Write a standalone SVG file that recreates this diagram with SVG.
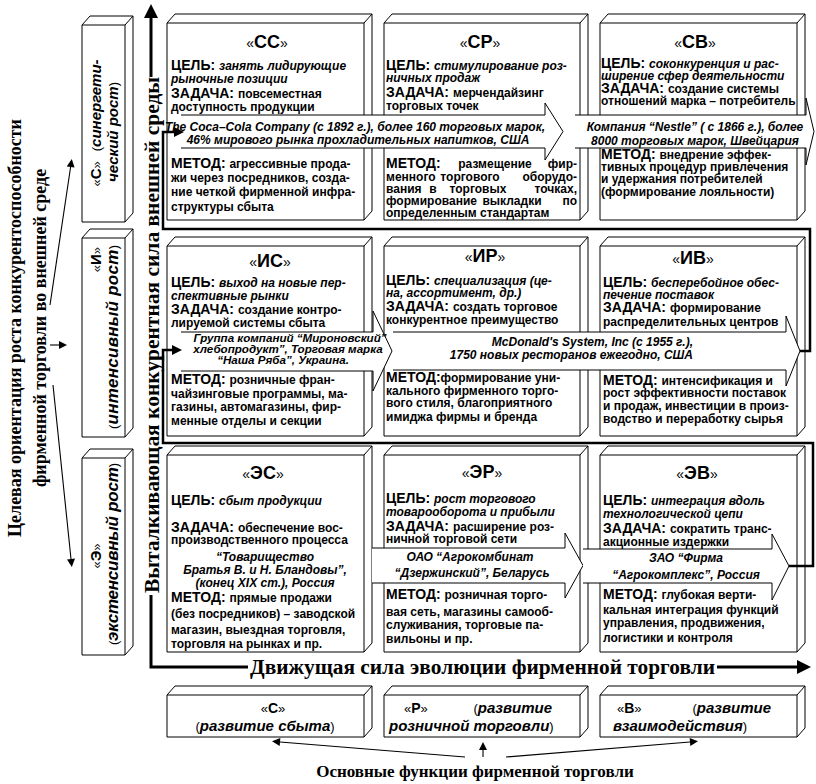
<svg xmlns="http://www.w3.org/2000/svg" width="816" height="784" viewBox="0 0 816 784">
<defs>
<style>
text{font-family:"Liberation Sans",Arial,sans-serif;font-weight:bold;font-size:12px;fill:#000}
.k{font-size:14px}
.i{font-style:italic}
.q{font-weight:normal}
.g{font-size:13px}
.h{font-size:18px}
.v{font-size:15px}
.v17{font-size:17px}
.bn{font-style:italic;font-size:12px}
.bs{font-style:italic;font-size:11.6px}
.sf{font-family:"Liberation Serif","Times New Roman",serif;font-weight:bold}
.s17{font-size:17px}
.s18{font-size:18px}
.s20{font-size:20px}
.box{fill:#fff;stroke:#000;stroke-width:1}
.ban{fill:#fff;stroke:#000;stroke-width:1}
.thick{fill:none;stroke:#000;stroke-width:3}
.loop{fill:none;stroke:#000;stroke-width:2.5}
.thin{fill:none;stroke:#000;stroke-width:1.1}
</style>
<marker id="big" viewBox="0 0 10 10" refX="0" refY="5" markerUnits="userSpaceOnUse" markerWidth="16" markerHeight="14" orient="auto"><path d="M0,0 L10,5 L0,10 z"/></marker>
<marker id="mid" viewBox="0 0 10 10" refX="0" refY="5" markerUnits="userSpaceOnUse" markerWidth="11" markerHeight="10" orient="auto"><path d="M0,0 L10,5 L0,10 z"/></marker>
<marker id="sm" viewBox="0 0 10 10" refX="0" refY="5" markerUnits="userSpaceOnUse" markerWidth="10" markerHeight="8" orient="auto"><path d="M0,0 L10,5 L0,10 z"/></marker>
</defs>
<rect width="816" height="784" fill="#fff"/>

<!-- side captions -->
<g id="axis-goal">
<text class="sf s18" transform="translate(21,328) rotate(-90)" text-anchor="middle">Целевая ориентация роста конкурентоспособности</text>
<text class="sf s18" transform="translate(46,328) rotate(-90)" text-anchor="middle">фирменной торговли во внешней среде</text>
</g>

<!-- growth type boxes -->
<g id="growth-s">
<path class="box" d="M82,25 H125 V222 H82 Z M82,25 L90,16 H133 L125,25 M133,16 V213 L125,222"/>
<text transform="translate(101,123) rotate(-90)" text-anchor="middle"><tspan class="q g">«</tspan><tspan class="v">С</tspan><tspan class="q g">»</tspan><tspan class="q g" dx="10">(</tspan><tspan class="v i">синергети-</tspan></text>
<text transform="translate(118,132) rotate(-90)" text-anchor="middle"><tspan class="v i">ческий рост</tspan><tspan class="q g">)</tspan></text>
</g>
<g id="growth-i">
<path class="box" d="M82,238 H125 V437 H82 Z M82,238 L90,229 H133 L125,238 M133,229 V428 L125,437"/>
<text transform="translate(101,247) rotate(-90)" text-anchor="end"><tspan class="q g">«</tspan><tspan class="v">И</tspan><tspan class="q g">»</tspan></text>
<text transform="translate(118,337) rotate(-90)" text-anchor="middle" textLength="184" lengthAdjust="spacing"><tspan class="q g">(</tspan><tspan class="v17 i">интенсивный рост</tspan><tspan class="q g">)</tspan></text>
</g>
<g id="growth-e">
<path class="box" d="M82,458 H125 V655 H82 Z M82,458 L90,449 H133 L125,458 M133,449 V646 L125,655"/>
<text transform="translate(101,556) rotate(-90)" text-anchor="middle"><tspan class="q g">«</tspan><tspan class="v">Э</tspan><tspan class="q g">»</tspan></text>
<text transform="translate(118,554) rotate(-90)" text-anchor="middle" textLength="182" lengthAdjust="spacing"><tspan class="q g">(</tspan><tspan class="v17 i">экстенсивный рост</tspan><tspan class="q g">)</tspan></text>
</g>

<!-- row С -->
<g id="node-ss">
<path class="box" d="M167,23 H364 V220 H167 Z M167,23 L175,14 H372 L364,23 M372,14 V211 L364,220"/>
<text x="267" y="48" text-anchor="middle"><tspan class="q k">«</tspan><tspan class="h">СС</tspan><tspan class="q k">»</tspan></text>
<text x="171" y="70"><tspan class="k">ЦЕЛЬ: </tspan><tspan class="i">занять лидирующие</tspan></text>
<text x="171" y="83" class="i">рыночные позиции</text>
<text x="171" y="98"><tspan class="k">ЗАДАЧА: </tspan>повсеместная</text>
<text x="171" y="111">доступность продукции</text>
<text x="171" y="168"><tspan class="k">МЕТОД: </tspan>агрессивные прода-</text>
<text x="171" y="182">жи через посредников, созда-</text>
<text x="171" y="196">ние четкой фирменной инфра-</text>
<text x="171" y="211">структуры сбыта</text>
</g>
<g id="node-sr">
<path class="box" d="M384,23 H580 V220 H384 Z M384,23 L392,14 H588 L580,23 M588,14 V211 L580,220"/>
<text x="480" y="48" text-anchor="middle"><tspan class="q k">«</tspan><tspan class="h">СР</tspan><tspan class="q k">»</tspan></text>
<text x="386" y="70"><tspan class="k">ЦЕЛЬ: </tspan><tspan class="i">стимулирование роз-</tspan></text>
<text x="386" y="82" class="i">ничных продаж</text>
<text x="386" y="97"><tspan class="k">ЗАДАЧА: </tspan>мерчендайзинг</text>
<text x="386" y="110">торговых точек</text>
<text x="386" y="168" class="k">МЕТОД:</text>
<text x="495" y="168" text-anchor="middle">размещение</text>
<text x="577" y="168" text-anchor="end">фир-</text>
<text x="386" y="181">менного</text>
<text x="470" y="181" text-anchor="middle">торгового</text>
<text x="577" y="181" text-anchor="end">оборудо-</text>
<text x="386" y="193">вания</text>
<text x="433" y="193" text-anchor="middle">в</text>
<text x="478" y="193" text-anchor="middle">торговых</text>
<text x="577" y="193" text-anchor="end">точках,</text>
<text x="386" y="205">формирование</text>
<text x="512" y="205" text-anchor="middle">выкладки</text>
<text x="577" y="205" text-anchor="end">по</text>
<text x="386" y="217">определенным стандартам</text>
</g>
<g id="node-sv">
<path class="box" d="M600,23 H797 V220 H600 Z M600,23 L608,14 H805 L797,23 M805,14 V211 L797,220"/>
<text x="695" y="48" text-anchor="middle"><tspan class="q k">«</tspan><tspan class="h">СВ</tspan><tspan class="q k">»</tspan></text>
<text x="601" y="68"><tspan class="k">ЦЕЛЬ: </tspan><tspan class="i">соконкуренция и рас-</tspan></text>
<text x="601" y="80" class="i">ширение сфер деятельности</text>
<text x="601" y="93"><tspan class="k">ЗАДАЧА: </tspan>создание системы</text>
<text x="601" y="105">отношений марка – потребитель</text>
<text x="601" y="159"><tspan class="k">МЕТОД: </tspan>внедрение эффек-</text>
<text x="601" y="171">тивных процедур привлечения</text>
<text x="601" y="183">и удержания потребителей</text>
<text x="601" y="196">(формирование лояльности)</text>
</g>

<!-- row И -->
<g id="node-is">
<path class="box" d="M167,246 H364 V436 H167 Z M167,246 L175,237 H372 L364,246 M372,237 V427 L364,436"/>
<text x="270" y="267" text-anchor="middle"><tspan class="q k">«</tspan><tspan class="h">ИС</tspan><tspan class="q k">»</tspan></text>
<text x="171" y="287"><tspan class="k">ЦЕЛЬ: </tspan><tspan class="i">выход на новые пер-</tspan></text>
<text x="171" y="300" class="i">спективные рынки</text>
<text x="171" y="314"><tspan class="k">ЗАДАЧА: </tspan>создание контро-</text>
<text x="171" y="327">лируемой системы сбыта</text>
<text x="171" y="384"><tspan class="k">МЕТОД: </tspan>розничные фран-</text>
<text x="171" y="398">чайзинговые программы, ма-</text>
<text x="171" y="411">газины, автомагазины, фир-</text>
<text x="171" y="425">менные отделы и секции</text>
</g>
<g id="node-ir">
<path class="box" d="M384,246 H580 V436 H384 Z M384,246 L392,237 H588 L580,246 M588,237 V427 L580,436"/>
<text x="485" y="262" text-anchor="middle"><tspan class="q k">«</tspan><tspan class="h">ИР</tspan><tspan class="q k">»</tspan></text>
<text x="386" y="285"><tspan class="k">ЦЕЛЬ: </tspan><tspan class="i">специализация (це-</tspan></text>
<text x="386" y="297" class="i">на, ассортимент, др.)</text>
<text x="386" y="311"><tspan class="k">ЗАДАЧА: </tspan>создать торговое</text>
<text x="386" y="324">конкурентное преимущество</text>
<text x="386" y="382"><tspan class="k">МЕТОД:</tspan>формирование уни-</text>
<text x="386" y="395">кального фирменного торго-</text>
<text x="386" y="407">вого стиля, благоприятного</text>
<text x="386" y="421">имиджа фирмы и бренда</text>
</g>
<g id="node-iv">
<path class="box" d="M600,246 H797 V436 H600 Z M600,246 L608,237 H805 L797,246 M805,237 V427 L797,436"/>
<text x="693" y="264" text-anchor="middle"><tspan class="q k">«</tspan><tspan class="h">ИВ</tspan><tspan class="q k">»</tspan></text>
<text x="603" y="287"><tspan class="k">ЦЕЛЬ: </tspan><tspan class="i">бесперебойное обес-</tspan></text>
<text x="603" y="299" class="i">печение поставок</text>
<text x="603" y="312"><tspan class="k">ЗАДАЧА: </tspan>формирование</text>
<text x="603" y="326">распределительных центров</text>
<text x="603" y="385"><tspan class="k">МЕТОД: </tspan>интенсификация и</text>
<text x="603" y="397">рост эффективности поставок</text>
<text x="603" y="410">и продаж, инвестиции в произ-</text>
<text x="603" y="423">водство и переработку сырья</text>
</g>

<!-- row Э -->
<g id="node-es">
<path class="box" d="M167,455 H364 V652 H167 Z M167,455 L175,446 H372 L364,455 M372,446 V643 L364,652"/>
<text x="263" y="479" text-anchor="middle"><tspan class="q k">«</tspan><tspan class="h">ЭС</tspan><tspan class="q k">»</tspan></text>
<text x="171" y="505"><tspan class="k">ЦЕЛЬ: </tspan><tspan class="i">сбыт продукции</tspan></text>
<text x="171" y="532"><tspan class="k">ЗАДАЧА: </tspan>обеспечение вос-</text>
<text x="171" y="544">производственного процесса</text>
<text x="265" y="561" text-anchor="middle" class="bn">“Товарищество</text>
<text x="265" y="574" text-anchor="middle" class="bn">Братья В. и Н. Бландовы”,</text>
<text x="265" y="587" text-anchor="middle" class="bn">(конец XIX ст.), Россия</text>
<text x="171" y="602"><tspan class="k">МЕТОД: </tspan>прямые продажи</text>
<text x="171" y="618">(без посредников) – заводской</text>
<text x="171" y="634">магазин, выездная торговля,</text>
<text x="171" y="648">торговля на рынках и пр.</text>
</g>
<g id="node-er">
<path class="box" d="M384,455 H580 V652 H384 Z M384,455 L392,446 H588 L580,455 M588,446 V643 L580,652"/>
<text x="482" y="478" text-anchor="middle"><tspan class="q k">«</tspan><tspan class="h">ЭР</tspan><tspan class="q k">»</tspan></text>
<text x="386" y="503"><tspan class="k">ЦЕЛЬ: </tspan><tspan class="i">рост торгового</tspan></text>
<text x="386" y="516" class="i">товарооборота и прибыли</text>
<text x="386" y="531"><tspan class="k">ЗАДАЧА: </tspan>расширение роз-</text>
<text x="386" y="543">ничной торговой сети</text>
<text x="386" y="599"><tspan class="k">МЕТОД: </tspan>розничная торго-</text>
<text x="386" y="616">вая сеть, магазины самооб-</text>
<text x="386" y="629">служивания, торговые па-</text>
<text x="386" y="643">вильоны и пр.</text>
</g>
<g id="node-ev">
<path class="box" d="M600,455 H797 V652 H600 Z M600,455 L608,446 H805 L797,455 M805,446 V643 L797,652"/>
<text x="697" y="479" text-anchor="middle"><tspan class="q k">«</tspan><tspan class="h">ЭВ</tspan><tspan class="q k">»</tspan></text>
<text x="603" y="505"><tspan class="k">ЦЕЛЬ: </tspan><tspan class="i">интеграция вдоль</tspan></text>
<text x="603" y="518" class="i">технологической цепи</text>
<text x="603" y="533"><tspan class="k">ЗАДАЧА: </tspan>сократить транс-</text>
<text x="603" y="546">акционные издержки</text>
<text x="603" y="599"><tspan class="k">МЕТОД: </tspan>глубокая верти-</text>
<text x="603" y="614">кальная интеграция функций</text>
<text x="603" y="627">управления, продвижения,</text>
<text x="603" y="642">логистики и контроля</text>
</g>

<!-- company banners -->
<g id="case-cocacola">
<path class="ban" d="M181,115 H545 V103 L563,131.5 L545,160 V148 H181"/>
<text x="355" y="131" text-anchor="middle" class="bn">The Coca–Cola Company (с 1892 г.), более 160 торговых марок,</text>
<text x="358" y="144" text-anchor="middle" class="bn">46% мирового рынка прохладительных напитков, США</text>
</g>
<g id="case-nestle">
<path class="ban" d="M575,115 H806 V98 L814,131.5 L806,165 V148 H575"/>
<text x="695" y="131" text-anchor="middle" class="bn">Компания “Nestle” ( с 1866 г.), более</text>
<text x="695" y="145" text-anchor="middle" class="bn">8000 торговых марок, Швейцария</text>
</g>
<g id="case-mironovsky">
<path class="ban" d="M181,332 H373 V311 L392,351 L373,391 V371 H181"/>
<text x="290" y="342" text-anchor="middle" class="bs">Группа компаний “Мироновский”</text>
<text x="288" y="353" text-anchor="middle" class="bs">хлебопродукт”, Торговая марка</text>
<text x="283" y="364" text-anchor="middle" class="bs">“Наша Ряба”, Украина.</text>
</g>
<g id="case-mcdonalds">
<path class="ban" d="M393,332 H786 V316 L800,351 L786,386 V370 H393"/>
<text x="693" y="346" text-anchor="end" class="bn">McDonald's System, Inc (с 1955 г.),</text>
<text x="693" y="359" text-anchor="end" class="bn">1750 новых ресторанов ежегодно, США</text>
</g>
<g id="case-agrokombinat">
<path class="ban" d="M372,548 H565 V533 L583,565.5 L565,598 V583 H372"/>
<text x="470" y="561" text-anchor="middle" class="bn">ОАО “Агрокомбинат</text>
<text x="472" y="577" text-anchor="middle" class="bn">“Дзержинский”, Беларусь</text>
</g>
<g id="case-agrokompleks">
<path class="ban" d="M583,549 H772 V534 L789,566 L772,600 V583 H583"/>
<text x="686" y="562" text-anchor="middle" class="bn">ЗАО “Фирма</text>
<text x="686" y="579" text-anchor="middle" class="bn">“Агрокомплекс”, Россия</text>
</g>

<!-- trade functions -->
<g id="func-s">
<path class="box" d="M167,695 H364 V737 H167 Z M167,695 L175,686 H372 L364,695 M372,686 V728 L364,737"/>
<text x="273" y="713" text-anchor="middle"><tspan class="q g">«</tspan><tspan class="k">С</tspan><tspan class="q g">»</tspan></text>
<text x="265" y="731" text-anchor="middle"><tspan class="q g">(</tspan><tspan class="v i">развитие сбыта</tspan><tspan class="q g">)</tspan></text>
</g>
<g id="func-r">
<path class="box" d="M384,695 H580 V737 H384 Z M384,695 L392,686 H588 L580,695 M588,686 V728 L580,737"/>
<text x="404" y="713"><tspan class="q g">«</tspan><tspan class="k">Р</tspan><tspan class="q g">»</tspan></text>
<text x="552" y="713" text-anchor="end"><tspan class="q g">(</tspan><tspan class="v i">развитие</tspan></text>
<text x="389" y="731"><tspan class="v i">розничной торговли</tspan><tspan class="q g">)</tspan></text>
</g>
<g id="func-v">
<path class="box" d="M600,695 H797 V737 H600 Z M600,695 L608,686 H805 L797,695 M805,686 V728 L797,737"/>
<text x="617" y="713"><tspan class="q g">«</tspan><tspan class="k">В</tspan><tspan class="q g">»</tspan></text>
<text x="771" y="713" text-anchor="end"><tspan class="q g">(</tspan><tspan class="v i">развитие</tspan></text>
<text x="613" y="731"><tspan class="v i">взаимодействия</tspan><tspan class="q g">)</tspan></text>
</g>

<!-- connectors -->
<g id="connectors">
<path class="thin" d="M50,305 L70.6,167" marker-end="url(#sm)"/>
<path class="thin" d="M50,345 H59" marker-end="url(#sm)"/>
<path class="thin" d="M53,385 L71,559" marker-end="url(#sm)"/>
<path class="thick" d="M151,77 V18" marker-end="url(#big)"/>
<path class="thick" d="M151,595 V667 H248"/>
<path class="thick" d="M717,667 H797" marker-end="url(#big)"/>
<path class="loop" d="M800,351 H810 V229 H163 V132 H174" marker-end="url(#mid)"/>
<path class="loop" d="M789,566 H813 V443 H163 V350 H172" marker-end="url(#mid)"/>
<path class="thin" d="M465,757 L280,742" marker-end="url(#sm)"/>
<path class="thin" d="M483,757 V750" marker-end="url(#sm)"/>
<path class="thin" d="M506,757 L690,742" marker-end="url(#sm)"/>
</g>

<!-- axis captions -->
<g id="axis-labels">
<text class="sf s20" transform="translate(159,335) rotate(-90)" text-anchor="middle" textLength="516" lengthAdjust="spacingAndGlyphs">Выталкивающая конкурентная сила внешней среды</text>
<text class="sf s20" x="250" y="674" textLength="465" lengthAdjust="spacingAndGlyphs">Движущая сила эволюции фирменной торговли</text>
<text class="sf s17" x="475" y="777" text-anchor="middle">Основные функции фирменной торговли</text>
</g>
</svg>
